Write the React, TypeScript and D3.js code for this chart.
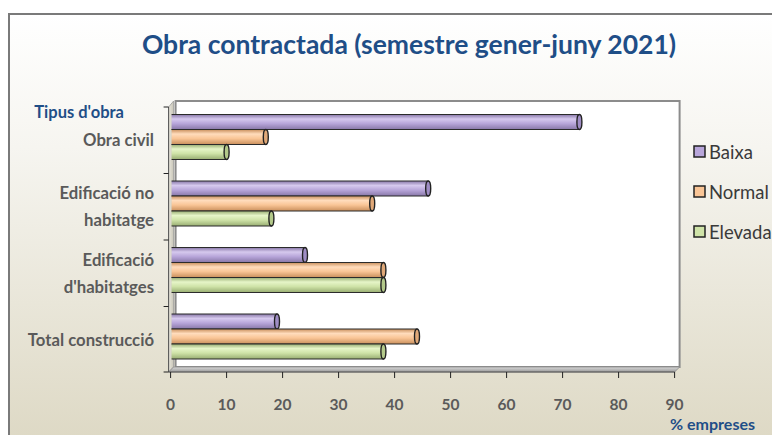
import React from "react";
import * as d3 from "d3";

const categories = ["Obra civil", "Edificació no habitatge", "Edificació d'habitatges", "Total construcció"];
const categoryLines = [["Obra civil"], ["Edificació no", "habitatge"], ["Edificació", "d'habitatges"], ["Total construcció"]];
const seriesNames = ["Baixa", "Normal", "Elevada"];
const baixa = [73, 46, 24, 19];
const normal = [17, 36, 38, 44];
const elevada = [10, 18, 38, 38];
const xTicks = [0, 10, 20, 30, 40, 50, 60, 70, 80, 90];

const seriesValues = [baixa, normal, elevada];
const colors = [
  { dark: "#8877a8", light: "#d6c9ee", mid: "#b8a6da", cap: "#9f8dc4" },
  { dark: "#c98f5c", light: "#ffdcbc", mid: "#f9c596", cap: "#e0a878" },
  { dark: "#98ad72", light: "#e6f5c8", mid: "#cfe3a8", cap: "#b3c98a" },
];

const W = 772, H = 435;
const FONT = "Lato, 'Open Sans', sans-serif";

export default function App() {
  const x = d3.scaleLinear().domain([0, 90]).range([170.6, 674.6]);
  const y = d3.scaleBand<string>().domain(categories).range([107, 373]).padding(0);
  const ys = d3.scaleBand<string>().domain(seriesNames).range([7.5, 52.5]).padding(0);
  const depth = 5;
  const x0 = x(0), x90 = x(90);
  const top = y.range()[0], bottom = y.range()[1] - 1;

  return (
    <svg width={W} height={H} style={{ position: "absolute", left: 0, top: 0 }} fontFamily={FONT}>
      <defs>
        <linearGradient id="bg" x1="0" y1="0" x2="0" y2="1">
          <stop offset="0" stopColor="#ffffff" />
          <stop offset="0.3" stopColor="#f6f5f0" />
          <stop offset="1" stopColor="#dcd7c2" />
        </linearGradient>
        <linearGradient id="floor" x1="0" y1="0" x2="0" y2="1">
          <stop offset="0" stopColor="#d8d8d8" />
          <stop offset="1" stopColor="#9a9a9a" />
        </linearGradient>
        <linearGradient id="lwall" x1="0" y1="0" x2="1" y2="0">
          <stop offset="0" stopColor="#e8e6dc" />
          <stop offset="1" stopColor="#c9c6b8" />
        </linearGradient>
        {colors.map((c, i) => (
          <linearGradient key={i} id={"cyl" + i} x1="0" y1="0" x2="0" y2="1">
            <stop offset="0" stopColor={c.dark} />
            <stop offset="0.3" stopColor={c.light} />
            <stop offset="0.6" stopColor={c.mid} />
            <stop offset="1" stopColor={c.dark} />
          </linearGradient>
        ))}
      </defs>

      <rect x={0} y={0} width={W} height={H} fill="#ffffff" />
      <rect x={9} y={14} width={W + 10} height={H + 10} fill="url(#bg)" stroke="#7a7a7a" strokeWidth={2} />

      <text x={409} y={54} textAnchor="middle" fontSize={26.5} fontWeight="bold" fill="#1f4e87">
        Obra contractada (semestre gener-juny 2021)
      </text>

      {/* back wall */}
      <rect x={x0 + depth} y={top - depth - 1} width={x90 - x0} height={bottom - top + 1}
        fill="#ffffff" stroke="#8c8c8c" strokeWidth={2} />
      {/* left wall */}
      <path d={`M${x0 - 2},${top} L${x0 - 2 + depth},${top - depth - 1} L${x0 - 2 + depth},${bottom - depth} L${x0 - 2},${bottom} Z`}
        fill="url(#lwall)" stroke="#9a9a9a" strokeWidth={0.8} />
      {/* floor */}
      <path d={`M${x0 - 2},${bottom} L${x90},${bottom} L${x90 + depth},${bottom - depth} L${x0 - 2 + depth},${bottom - depth} Z`}
        fill="url(#floor)" stroke="#8c8c8c" strokeWidth={0.8} />

      {/* bars */}
      {categories.map((cat, ci) =>
        seriesNames.map((s, si) => {
          const v = seriesValues[si][ci];
          const by = (y(cat) as number) + (ys(s) as number);
          const bh = ys.bandwidth();
          const xe = x(v);
          const xs = x0 + 1;
          return (
            <g key={cat + s}>
              <path d={`M${xs},${by} L${xe},${by} L${xe},${by + bh} L${xs},${by + bh}`}
                fill={`url(#cyl${si})`} stroke="#2b2b2b" strokeWidth={1.2} />
              <ellipse cx={xe} cy={by + bh / 2} rx={2.5} ry={bh / 2} fill={colors[si].cap} stroke="#222" strokeWidth={1.4} />
            </g>
          );
        })
      )}

      {/* y axis */}
      <line x1={x0 - 2} x2={x0 - 2} y1={top} y2={bottom} stroke="#555" strokeWidth={1} />
      {d3.range(categories.length + 1).map(i => {
        const yy = i < categories.length ? (y(categories[i]) as number) : bottom;
        return <line key={i} x1={x0 - 7} x2={x0 - 2} y1={yy} y2={yy} stroke="#222" strokeWidth={1} />;
      })}

      {/* x axis */}
      <line x1={x0 - 2} x2={x90} y1={bottom} y2={bottom} stroke="#555" strokeWidth={1} />
      {xTicks.map(t => (
        <g key={t}>
          <line x1={x(t)} x2={x(t)} y1={bottom} y2={bottom + 6} stroke="#222" strokeWidth={1} />
          <text x={x(t)} y={410} textAnchor="middle" fontSize={15.5} fontWeight="bold" fill="#5a5a5a">{t}</text>
        </g>
      ))}
      <text x={755} y={430} textAnchor="end" fontSize={16} fontWeight="bold" fill="#1f4e87">% empreses</text>

      <text x={124} y={118} textAnchor="end" fontSize={16.5} fontWeight="bold" fill="#1f4e87">Tipus d'obra</text>

      {categories.map((cat, ci) => {
        const lines = categoryLines[ci];
        const cy = (y(cat) as number) + y.bandwidth() / 2;
        return lines.map((ln, li) => (
          <text key={cat + li} x={154} y={cy + (li - (lines.length - 1) / 2) * 27 + 6}
            textAnchor="end" fontSize={16.7} fontWeight="bold" fill="#5a5a5a">{ln}</text>
        ));
      })}

      {/* legend */}
      {seriesNames.map((s, si) => (
        <g key={s} transform={`translate(694, ${152 + si * 40})`}>
          <rect x={0} y={-6} width={11} height={11} fill={colors[si].mid} stroke="#222" strokeWidth={1.5} />
          <text x={15} y={6.5} fontSize={18.5} fill="#3a3a3a">{s}</text>
        </g>
      ))}
    </svg>
  );
}
